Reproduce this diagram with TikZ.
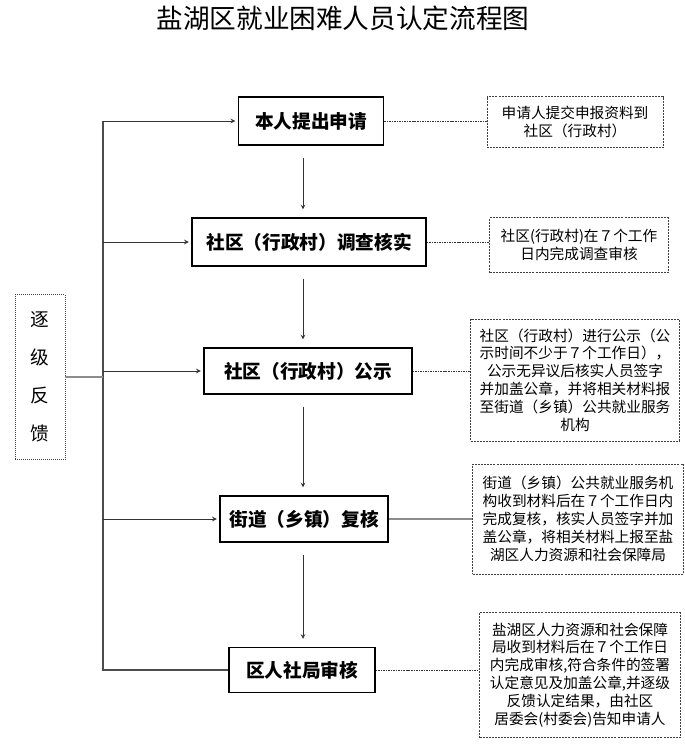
\documentclass[tikz,border=0pt]{standalone}
\usepackage{fontspec}
\setmainfont{Noto Sans CJK SC}
\usetikzlibrary{positioning}

\begin{document}
\begin{tikzpicture}[>=stealth, x=0.75pt, y=-0.75pt,
    stepbox/.style={draw, line width=0.8pt, inner sep=0pt,
      font=\fontsize{14}{16}\selectfont\bfseries},
    notebox/.style={draw=black!75, dash pattern=on 1.5pt off 0.8pt, line width=0.5pt, inner sep=0pt,
      align=center, font=\fontsize{11}{13.4}\selectfont},
    flow/.style={->, black!80, line width=0.6pt},
    dlink/.style={black!80, dash pattern=on 1.2pt off 0.7pt, line width=0.6pt},
    glink/.style={black!45, line width=0.8pt}]
  \useasboundingbox (0,0) rectangle (685,754);
  % Title
  \node[font=\fontsize{20}{22}\selectfont] (title) at (343,18) {盐湖区就业困难人员认定流程图};
  % Main steps, top to bottom
  \node[stepbox, minimum width=145*0.75pt, minimum height=48*0.75pt] (b1) at (311,121) {本人提出申请};
  \node[stepbox, minimum width=234*0.75pt, minimum height=48*0.75pt] (b2) at (309,242) {社区（行政村）调查核实};
  \node[stepbox, minimum width=208*0.75pt, minimum height=46*0.75pt] (b3) at (308,371) {社区（行政村）公示};
  \node[stepbox, minimum width=168*0.75pt, minimum height=46*0.75pt] (b4) at (304,519) {街道（乡镇）复核};
  \node[stepbox, minimum width=146*0.75pt, minimum height=45*0.75pt] (b5) at (302,670) {区人社局审核};
  % Notes on the right
  \node[notebox, minimum width=176*0.75pt, minimum height=51*0.75pt] (s1) at (575,122)
    {申请人提交申报资料到\\社区（行政村）};
  \node[notebox, minimum width=179*0.75pt, minimum height=55*0.75pt] (s2) at (579,245)
    {社区(行政村)在７个工作\\日内完成调查审核};
  \node[notebox, minimum width=209*0.75pt, minimum height=122*0.75pt] (s3) at (575,380)
    {社区（行政村）进行公示（公\\示时间不少于７个工作日），\\公示无异议后核实人员签字\\并加盖公章，并将相关材料报\\至街道（乡镇）公共就业服务\\机构};
  \node[notebox, minimum width=211*0.75pt, minimum height=110*0.75pt] (s4) at (578,519)
    {街道（乡镇）公共就业服务机\\构收到材料后在７个工作日内\\完成复核，核实人员签字并加\\盖公章，将相关材料上报至盐\\湖区人力资源和社会保障局};
  \node[notebox, minimum width=201*0.75pt, minimum height=125*0.75pt] (s5) at (580,675)
    {盐湖区人力资源和社会保障\\局收到材料后在７个工作日\\内完成审核,符合条件的签署\\认定意见及加盖公章,并逐级\\反馈认定结果，由社区\\居委会(村委会)告知申请人};
  % Feedback box on the left
  \node[notebox, densely dotted, minimum width=50*0.75pt, minimum height=165*0.75pt,
    font=\fontsize{14}{28.5}\selectfont] (fb) at (40,377) {逐\\级\\反\\馈};
  \coordinate (ax) at (303,0);
  \coordinate (bus) at (103,0);
  % Downward flow
  \foreach \a/\b in {b1/b2, b2/b3, b3/b4, b4/b5}
    \draw[flow, shorten <=9pt, shorten >=6pt] (\a.south -| ax) -- (\b.north -| ax);
  % Links to the notes
  \foreach \n in {1,2,3,5}
    \draw[dlink] (b\n.east) -- (b\n.east -| s\n.west);
  \draw[glink] (b4.east) -- (b4.east -| s4.west);
  % Feedback loop
  \draw[black!70, line width=0.8pt] (b5.west) -- (b5.west -| bus) -- (b1.west -| bus);
  \foreach \n in {b1,b2,b3,b4}
    \draw[flow, shorten >=2pt] (\n.west -| bus) -- (\n.west);
  \draw[glink] (fb.east) -- (fb.east -| bus);
\end{tikzpicture}
\end{document}
